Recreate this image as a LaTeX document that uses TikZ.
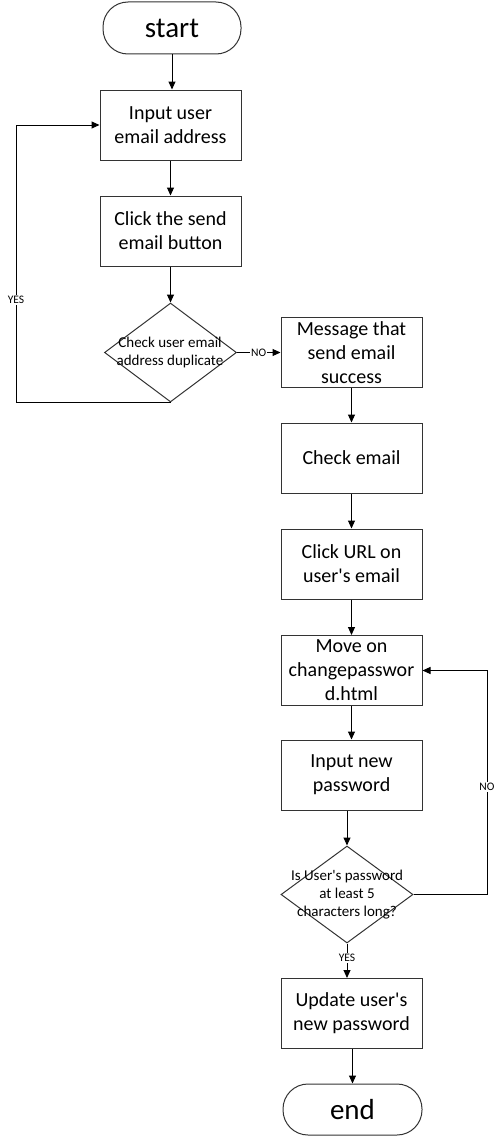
\documentclass[tikz,border=0pt]{standalone}
\usepackage{fontspec}
\setmainfont{Carlito}
\usetikzlibrary{arrows.meta,shapes.geometric}
\begin{document}
\begin{tikzpicture}[x=1pt,y=-1pt,
 box/.style={draw=black!80, line width=1pt, minimum width=141pt, minimum height=70pt, inner sep=0pt, align=center, font=\fontsize{20}{24}\selectfont},
 term/.style={draw=black!80, line width=1pt, rounded corners=25pt, minimum width=138pt, minimum height=52pt, inner sep=0pt, font=\fontsize{29}{32}\selectfont},
 dia/.style={draw=black!80, line width=1pt, diamond, minimum width=132pt, minimum height=99pt, inner sep=0pt},
 dtext/.style={align=center, font=\fontsize{15}{18}\selectfont},
 lbl/.style={font=\fontsize{11.5}{13}\selectfont, fill=white, inner sep=1pt},
 arr/.style={-{Triangle[length=8pt,width=7pt]}, line width=1pt, draw=black}
]
\useasboundingbox (0,0) rectangle (503,1148);
\node[term] (start) at (172,28) {start};
\node[box] (b1) at (170.5,125) {Input user\\email address};
\node[box] (b2) at (170.5,231) {Click the send\\email button};
\node[dia] (d1) at (170.5,352.5) {};
\node[dtext] (d1t) at (170,352.5) {Check user email\\address duplicate};
\node[box] (b3) at (351.5,352.5) {Message that\\send email\\success};
\node[box] (b4) at (351.5,458) {Check email};
\node[box] (b5) at (351.5,564) {Click URL on\\user\textquotesingle s email};
\node[box] (b6) at (351.5,670.5) {Move on\\changepasswor\\d.html};
\node[box] (b7) at (351.5,775) {Input new\\password};
\node[dia, minimum height=97pt] (d2) at (347,894.5) {};
\node[dtext] (d2t) at (347,894.5) {Is User\textquotesingle s password\\at least 5\\characters long?};
\node[box] (b8) at (351.5,1013.5) {Update user\textquotesingle s\\new password};
\node[term, minimum width=139pt, minimum height=51pt] (end) at (352.5,1109.5) {end};
\coordinate (yl) at (16,300);
\coordinate (nl) at (487,787);
\draw[arr] (start.south) -- (start.south |- b1.north);
\draw[arr] (b1) -- (b2);
\draw[arr] (b2.south) -- (d1.north);
\draw[arr] (d1.south) -- (d1.south -| yl) -- (yl |- b1.west) -- (b1.west);
\node[lbl] (yes1) at (yl) {YES};
\draw[arr] (d1.east) -- node[lbl] (no1) {NO} (b3.west);
\draw[arr] (b3) -- (b4);
\draw[arr] (b4) -- (b5);
\draw[arr] (b5) -- (b6);
\draw[arr] (b6) -- (b7);
\draw[arr] (d2.north |- b7.south) -- (d2.north);
\draw[arr] (d2.south) -- node[lbl, pos=0.42] (yes2) {YES} (d2.south |- b8.north);
\draw[arr] (d2.east) -- (d2.east -| nl) -- (nl |- b6.east) -- (b6.east);
\node[lbl] (no2) at (nl) {NO};
\draw[arr] (end.north |- b8.south) -- (end.north);
\end{tikzpicture}
\end{document}
